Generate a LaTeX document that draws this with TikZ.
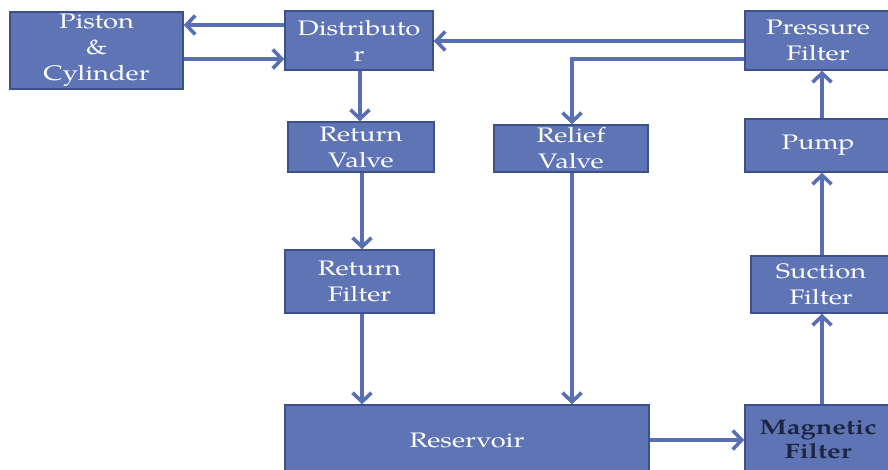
\documentclass[tikz,border=0pt]{standalone}
\usepackage{fontspec}
\setmainfont{TeX Gyre Pagella}[FakeStretch=1.3]
\usetikzlibrary{arrows.meta}
\definecolor{boxfill}{RGB}{94,116,181}
\definecolor{boxedge}{RGB}{60,80,140}
\definecolor{linec}{RGB}{88,111,180}
\definecolor{darktext}{RGB}{28,38,68}
\tikzset{
  blk/.style={draw=boxedge, line width=1.5pt, fill=boxfill, text=white, align=center,
    inner sep=0pt, font=\fontsize{21}{26}\selectfont},
  flow/.style={draw=linec, line width=3.6pt, -{Straight Barb[length=9pt,width=19pt,line width=3.6pt]}},
}
\begin{document}
\begin{tikzpicture}[x=1pt,y=-1pt]
\useasboundingbox (0,0) rectangle (888,470);
\node[blk, minimum width=173pt, minimum height=77pt] (pc) at (96.5,50.5) {Piston\\\&\\Cylinder};
\node[blk, minimum width=148pt, minimum height=59pt] (dist) at (359,40.5) {Distributo\\r};
\node[blk, minimum width=146pt, minimum height=59pt] (pf) at (818,40.5) {Pressure\\Filter};
\node[blk, minimum width=146pt, minimum height=50pt] (rv) at (361,147) {Return\\Valve};
\node[blk, minimum width=154pt, minimum height=47pt] (relief) at (571,148.5) {Relief\\Valve};
\node[blk, minimum width=146pt, minimum height=53pt] (pump) at (818,145.5) {Pump};
\node[blk, minimum width=149pt, minimum height=63pt] (rf) at (359.5,281.5) {Return\\Filter};
\node[blk, minimum width=140pt, minimum height=57pt] (sf) at (821,284.5) {Suction\\Filter};
\node[blk, minimum width=364pt, minimum height=70pt] (res) at (467,440) {Reservoir};
\node[blk, minimum width=146pt, minimum height=70pt, text=darktext, font=\fontsize{21}{24}\selectfont\bfseries] (mf) at (818,440) {Magnetic\\Filter};

\draw[flow] (dist.west |- 0,25) -- (pc.east |- 0,25);
\draw[flow] (pc.east |- 0,59) -- (dist.west |- 0,59);
\draw[flow] (pf.west |- 0,41) -- (dist.east |- 0,41);
\coordinate (rturn) at (572,59);
\draw[flow] (pf.west |- 0,59) -- (rturn) -- (rturn |- relief.north);
\draw[flow] (360,0 |- dist.south) -- (360,0 |- rv.north);
\draw[flow] (362,0 |- rv.south) -- (362,0 |- rf.north);
\draw[flow] (362,0 |- rf.south) -- (362,0 |- res.north);
\draw[flow] (572,0 |- relief.south) -- (572,0 |- res.north);
\draw[flow] (res.east |- 0,440) -- (mf.west |- 0,440);
\draw[flow] (822,0 |- mf.north) -- (822,0 |- sf.south);
\draw[flow] (822,0 |- sf.north) -- (822,0 |- pump.south);
\draw[flow] (822,0 |- pump.north) -- (822,0 |- pf.south);
\end{tikzpicture}
\end{document}
